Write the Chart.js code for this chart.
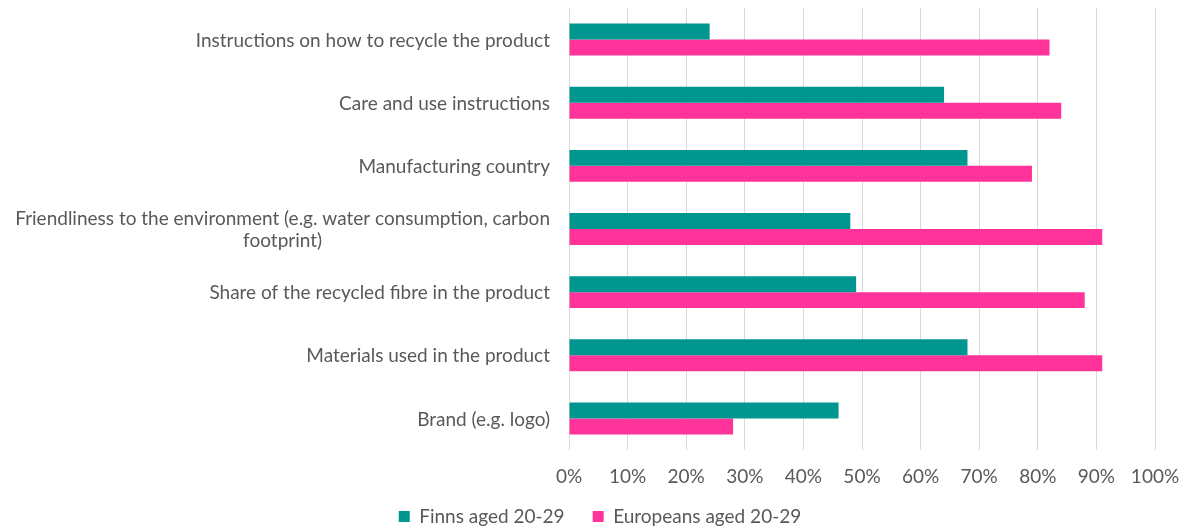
<!DOCTYPE html>
<html>
<head>
<meta charset="utf-8">
<script src="https://cdn.jsdelivr.net/npm/chart.js@4/dist/chart.umd.min.js"></script>
<style>
  html, body { margin: 0; padding: 0; background: #fff; }
  #wrap { width: 1184px; height: 529px; }
</style>
</head>
<body>
<div id="wrap"><canvas id="myChart" width="1184" height="529"></canvas></div>
<script>
const categories = [
  "Instructions on how to recycle the product",
  "Care and use instructions",
  "Manufacturing country",
  ["Friendliness to the environment (e.g. water consumption, carbon", "footprint)"],
  "Share of the recycled fibre in the product",
  "Materials used in the product",
  "Brand (e.g. logo)"
];
const finns = [24, 64, 68, 48, 49, 68, 46];
const europeans = [82, 84, 79, 91, 88, 91, 28];
const seriesNames = ["Finns aged 20-29", "Europeans aged 20-29"];

const textColor = "#595959";
const fontFamily = "Lato, 'Open Sans', sans-serif";
const fontSize = 19;

// y labels drawn by hand so wrapped lines can be centred on each other
const categoryLabels = {
  id: "categoryLabels",
  afterLayout(chart) {
    // let the x tick labels run into the legend box instead of being clipped
    chart.scales.x.bottom += 30;
  },
  afterDraw(chart) {
    const y = chart.scales.y;
    const ctx = chart.ctx;
    ctx.save();
    ctx.font = fontSize + "px " + fontFamily;
    ctx.fillStyle = textColor;
    ctx.textBaseline = "middle";
    ctx.textAlign = "center";
    const right = chart.chartArea.left - 19;
    const lh = 22;
    categories.forEach((lab, i) => {
      const lines = Array.isArray(lab) ? lab : [lab];
      const w = Math.max(...lines.map(l => ctx.measureText(l).width));
      const cx = right - w / 2;
      const cy = y.getPixelForValue(i) + 1;
      const top = cy - (lines.length - 1) * lh / 2;
      lines.forEach((l, j) => ctx.fillText(l, cx, top + j * lh));
    });
    ctx.restore();
  }
};

new Chart(document.getElementById("myChart").getContext("2d"), {
  type: "bar",
  data: {
    labels: categories,
    datasets: [
      { label: seriesNames[0], data: finns, backgroundColor: "#009690" },
      { label: seriesNames[1], data: europeans, backgroundColor: "#ff3399" }
    ]
  },
  options: {
    indexAxis: "y",
    responsive: false,
    animation: false,
    layout: { padding: { top: 8, right: 0, left: 16, bottom: 0 } },
    datasets: { bar: { categoryPercentage: 0.506, barPercentage: 1 } },
    scales: {
      x: {
        min: 0,
        max: 100,
        ticks: {
          stepSize: 10,
          padding: 15,
          color: textColor,
          font: { family: fontFamily, size: fontSize },
          callback: v => v + "%"
        },
        grid: { color: "#d9d9d9", drawTicks: false },
        border: { display: false },
        afterFit(s) { s.height = 29; s.paddingRight = 29; s.paddingLeft = 0; }
      },
      y: {
        ticks: { display: false },
        grid: { display: false },
        border: { display: false },
        afterFit(s) { s.width = 553; }
      }
    },
    plugins: {
      legend: {
        position: "bottom",
        maxHeight: 50,
        labels: {
          boxWidth: 11,
          boxHeight: 11,
          padding: 28,
          color: textColor,
          font: { family: fontFamily, size: fontSize }
        }
      },
      tooltip: { enabled: false }
    }
  },
  plugins: [categoryLabels]
});
</script>
</body>
</html>
